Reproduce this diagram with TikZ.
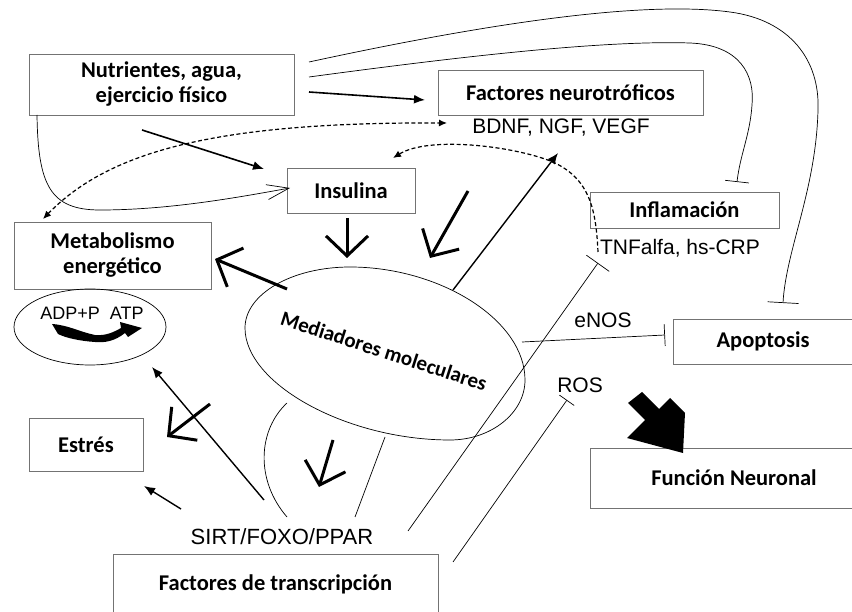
\documentclass[tikz,border=0pt]{standalone}
\usepackage{fontspec}
\setmainfont{Liberation Sans}
\newfontfamily\calib{Carlito}
\usetikzlibrary{arrows.meta,shapes.geometric}

\begin{document}
\begin{tikzpicture}[x=1pt,y=-1pt,
  box/.style={draw=black!55, line width=0.8pt, rectangle, inner sep=0pt,
    font=\calib\bfseries\fontsize{22.5}{25}\selectfont, align=center},
  lbl/.style={inner sep=0pt, font=\fontsize{21}{25}\selectfont},
  thinline/.style={line width=0.7pt},
  flow/.style={line width=1.6pt, -{Latex[length=11pt,width=9pt]}},
  dotflow/.style={line width=1.2pt, dash pattern=on 4pt off 2.5pt},
  bigv/.style={line width=3pt, -{Straight Barb[length=20pt,width=42pt]}},
  inhib/.style={thinline, -{Bar[width=#1]}}
]
\useasboundingbox (0,0) rectangle (852,612);

% ---- boxes ----
\node[box, minimum width=265pt, minimum height=61pt] (nut) at (161.5,84.5) {Nutrientes, agua,\\ejercicio físico};
\node[box, minimum width=265pt, minimum height=45pt] (fac) at (570.5,92.5) {Factores neurotróficos};
\node[box, minimum width=128pt, minimum height=45pt] (ins) at (351,190.5) {Insulina};
\node[box, minimum width=189pt, minimum height=36pt] (infl) at (684.5,210) {Inflamación};
\node[box, minimum width=197pt, minimum height=67pt] (met) at (112.5,255.5) {Metabolismo\\energético};
\node[box, minimum width=180pt, minimum height=45pt] (apo) at (763,341.5) {Apoptosis};
\node[box, minimum width=288pt, minimum height=60pt] (fun) at (734,478) {Función Neuronal};
\node[box, minimum width=114pt, minimum height=53pt] (est) at (86,444.5) {Estrés};
\node[box, minimum width=325pt, minimum height=60pt] (ftr) at (275.5,584) {Factores de transcripción};

% ---- plain labels ----
\node[lbl] (bdnf) at (561,128) {BDNF, NGF, VEGF};
\node[lbl] (tnf) at (680,248) {TNFalfa, hs-CRP};
\node[lbl, font=\fontsize{22}{25}\selectfont] (sirt) at (282,537) {SIRT/FOXO/PPAR};
\node[lbl] (enos) at (603,320) {eNOS};
\node[lbl] (ros) at (580,385) {ROS};

% ---- ATP cycle ----
\node[draw, ellipse, thinline, minimum width=152pt, minimum height=76pt, inner sep=0pt] (adp) at (90,327) {};
\node[inner sep=0pt, font=\fontsize{18}{20}\selectfont] (adptxt) at (92,313) {ADP+P\hspace{10pt}ATP};
\fill (52,324) .. controls (68,325) and (80,332) .. (95,335)
  .. controls (106,336) and (114,332) .. (121,328) -- (120,322) -- (142,328) -- (128,337) -- (125,333)
  .. controls (115,341) and (105,343) .. (95,342)
  .. controls (80,341) and (66,338) .. (58,334) -- cycle;

% ---- molecular mediators (egg-shaped outline) ----
\coordinate (medL) at (245,328);
\coordinate (medT) at (350,267);
\coordinate (medRt) at (525,380);
\coordinate (medBt) at (450,440);
\draw[thinline] (medL) .. controls (245,294) and (292,267) .. (medT)
  .. controls (440,267) and (525,320) .. (medRt)
  .. controls (525,413) and (491,440) .. (medBt)
  .. controls (347,440) and (245,384) .. (medL) -- cycle;
\node[rotate=-18, inner sep=0pt, font=\calib\bfseries\fontsize{21}{24}\selectfont] (medtxt) at (384,351) {Mediadores moleculares};

% ---- connector end points ----
\coordinate (nutR1) at (309,62);
\coordinate (nutR2) at (309,77);
\coordinate (nutR3) at (309,92);
\coordinate (facL) at (425,100);
\coordinate (nutB) at (142,130);
\coordinate (insTL) at (264,169);
\coordinate (nutBL) at (37,115);
\coordinate (insL) at (290,188);
\coordinate (apoT) at (783,303);
\coordinate (inflT) at (737,182);
\coordinate (metTL) at (43,219);
\coordinate (bdnfL) at (447,123);
\coordinate (tnfL) at (598,252);
\coordinate (insTR) at (393,158);
\coordinate (medNE) at (453,290);
\coordinate (facB) at (558,153);
\coordinate (v1a) at (347,218); \coordinate (v1b) at (347,258);
\coordinate (v2a) at (468,191); \coordinate (v2b) at (430,258);
\coordinate (v3a) at (287,289); \coordinate (v3b) at (215,259);
\coordinate (v4a) at (333,440); \coordinate (v4b) at (319,487);
\coordinate (v5a) at (210,404); \coordinate (v5b) at (167,437);
\coordinate (s1) at (264,500); \coordinate (adpSE) at (152,367);
\coordinate (s2) at (181,509); \coordinate (estSE) at (144,486);
\coordinate (s3) at (287,517); \coordinate (medB1) at (287,403);
\coordinate (s4) at (355,517); \coordinate (medB2) at (385,437);
\coordinate (s5) at (408,531); \coordinate (tnfB) at (598,263);
\coordinate (ftrR) at (453,562); \coordinate (rosB) at (567,400);
\coordinate (medR) at (522,342); \coordinate (apoL) at (665,335);

% ---- connectors ----
\draw[flow] (nutR3) -- (facL);
\draw[flow] (nutB) -- (insTL);
\draw[thinline, -{Straight Barb[length=22pt,width=15pt]}] (nutBL) .. controls (38,185) and (50,210) .. (100,210) .. controls (170,210) and (240,197) .. (insL);
\draw[inhib=31pt] (nutR1) .. controls (480,25) and (640,0) .. (730,12) .. controls (790,20) and (820,60) .. (818,110) .. controls (816,190) and (786,250) .. (apoT);
\draw[inhib=24pt] (nutR2) .. controls (450,58) and (600,40) .. (690,43) .. controls (740,45) and (755,75) .. (752,105) .. controls (750,135) and (740,155) .. (inflT);
\draw[dotflow, {Latex[length=8pt,width=7pt]}-{Latex[length=8pt,width=7pt]}] (metTL) .. controls (110,150) and (220,122) .. (bdnfL);
\draw[dotflow, -{Latex[length=8pt,width=7pt]}] (tnfL) .. controls (596,210) and (590,180) .. (555,163) .. controls (520,147) and (430,135) .. (insTR);
\draw[flow, line width=1.4pt] (medNE) -- (facB);

\draw[bigv] (v1a) -- (v1b);
\draw[bigv] (v2a) -- (v2b);
\draw[bigv] (v3a) -- (v3b);
\draw[bigv] (v4a) -- (v4b);
\draw[bigv] (v5a) -- (v5b);

\draw[flow, line width=1.4pt] (s1) -- (adpSE);
\draw[flow, line width=1.4pt] (s2) -- (estSE);
\draw[thinline] (s3) .. controls (255,480) and (258,430) .. (medB1);
\draw[thinline] (s4) -- (medB2);
\draw[inhib=28pt] (s5) -- (tnfB);
\draw[inhib=18pt] (ftrR) -- (rosB);
\draw[inhib=22pt] (medR) -- (apoL);

% ---- output arrow ----
\fill (628,403) -- (642,392) -- (659,409) -- (670,398) -- (685,413) -- (683,453) -- (627,438) -- (645,420) -- cycle;
\end{tikzpicture}
\end{document}
